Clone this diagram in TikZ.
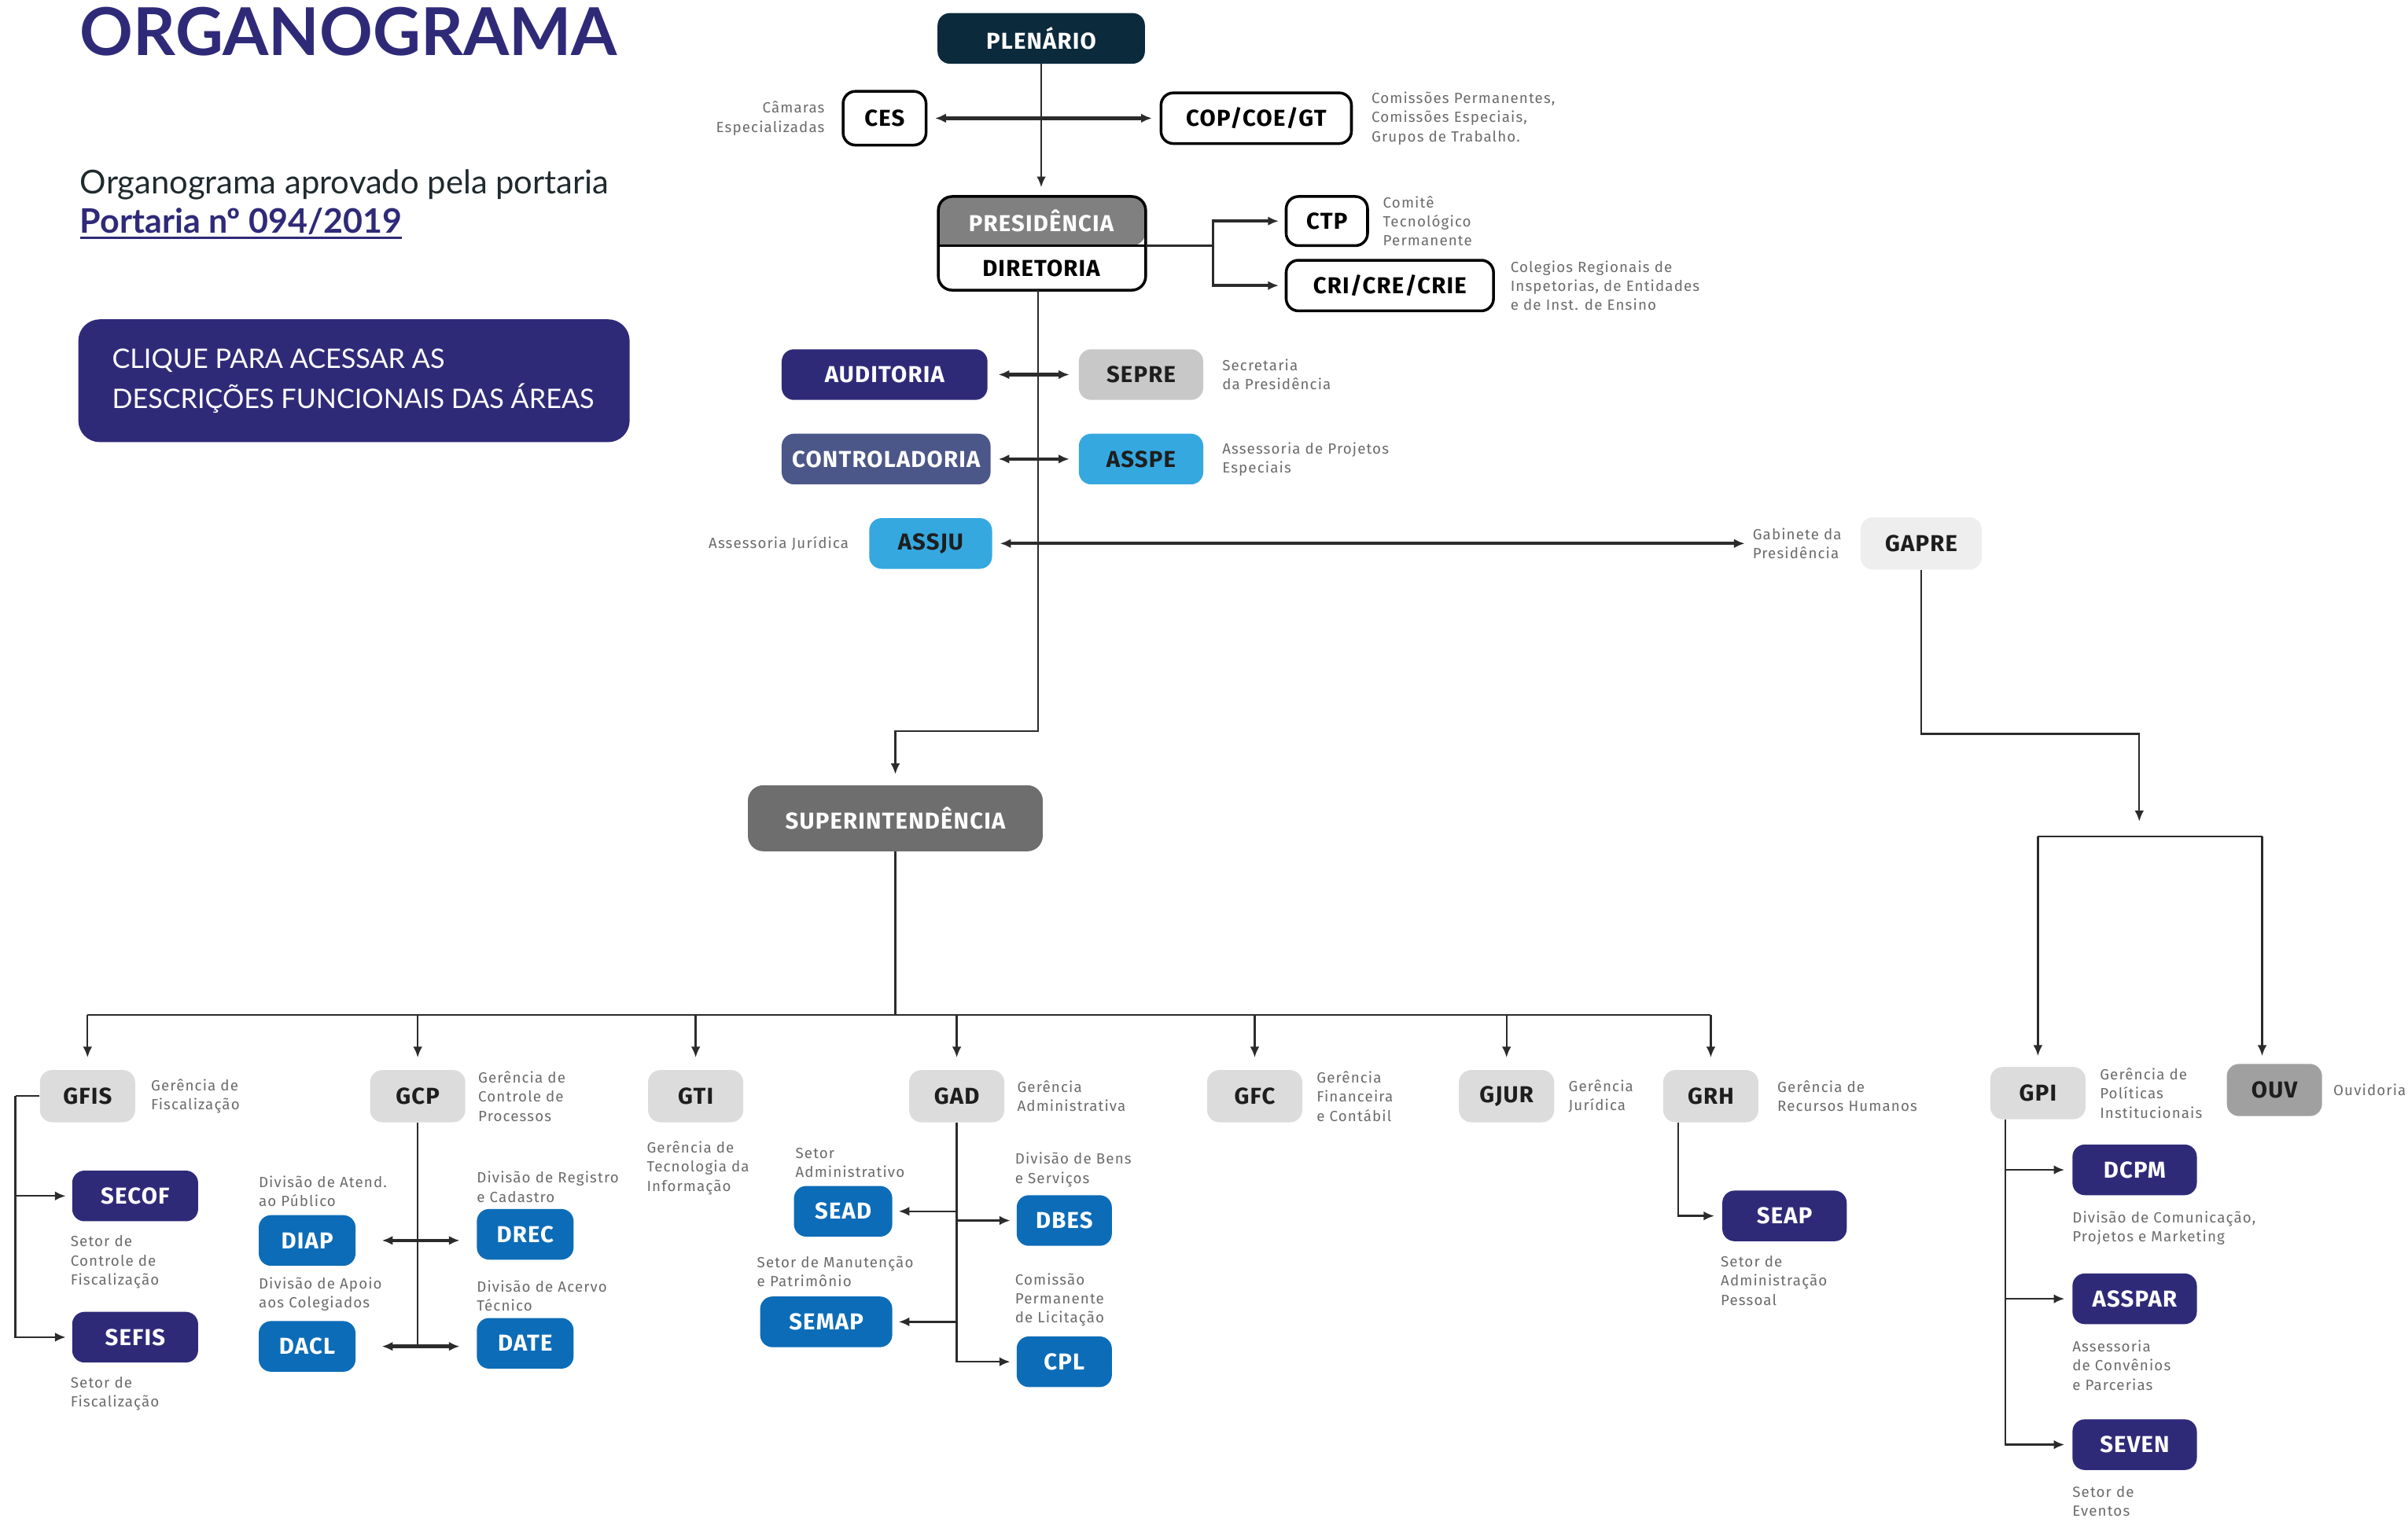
\documentclass[tikz,border=0pt]{standalone}
\usepackage{fontspec}
\setmainfont{Fira Sans}
\newfontfamily\latofont{Lato}
\newfontfamily\unitfont[LetterSpace=4]{Fira Sans}
\newfontfamily\descfont[LetterSpace=6]{Fira Sans}
\usetikzlibrary{positioning,arrows.meta}

\definecolor{indigo}{HTML}{2F2A78}
\definecolor{plenblue}{HTML}{0B2A3C}
\definecolor{presgray}{HTML}{808080}
\definecolor{supgray}{HTML}{6E6E6E}
\definecolor{boxgray}{HTML}{DCDCDC}
\definecolor{sepregray}{HTML}{C8C8C8}
\definecolor{gapregray}{HTML}{EEEEEE}
\definecolor{ouvgray}{HTML}{A0A0A0}
\definecolor{ctrlblue}{HTML}{4C5789}
\definecolor{lightblue}{HTML}{35A8E0}
\definecolor{midblue}{HTML}{0C6CB8}
\definecolor{linegray}{HTML}{2B2B2B}
\definecolor{descgray}{HTML}{6B6B6B}
\definecolor{darktext}{HTML}{1E1E1E}
\definecolor{subtext}{HTML}{1F2A2E}

\begin{document}
\begin{tikzpicture}[x=1pt, y=-1pt, shorten >=0pt, >={Latex[length=7pt,width=6pt]}]
    \tikzstyle{unit}=[rectangle, rounded corners=8pt, minimum height=33pt, inner sep=0pt, font=\unitfont\bfseries\fontsize{15}{18}\selectfont]
    \tikzstyle{outline unit}=[unit, draw=black, line width=1.8pt, fill=white, text=black]
    \tikzstyle{navy unit}=[unit, fill=plenblue, text=white]
    \tikzstyle{indigo unit}=[unit, fill=indigo, text=white]
    \tikzstyle{blue unit}=[unit, fill=midblue, text=white]
    \tikzstyle{light unit}=[unit, fill=lightblue, text=darktext]
    \tikzstyle{gray unit}=[unit, fill=boxgray, text=darktext, minimum width=62pt, minimum height=34pt]
    \tikzstyle{desc}=[inner sep=0pt, align=left, text=descgray, font=\descfont\fontsize{9.6}{12.5}\selectfont]
    \tikzstyle{link}=[draw=linegray, line width=1.2pt]
    \tikzstyle{link arrow}=[link, ->]
    \tikzstyle{two way}=[draw=linegray, line width=2.2pt, <->]

    \useasboundingbox (0,0) rectangle (1568,991);

    % Left panel
    \node[anchor=base west, inner sep=0pt, text=indigo, font=\latofont\bfseries\fontsize{43}{43}\selectfont] (title) at (52,36) {ORGANOGRAMA};
    \node[anchor=base west, inner sep=0pt, text=subtext, font=\latofont\fontsize{21.4}{22}\selectfont] (sub) at (52,126) {Organograma aprovado pela portaria};
    \node[anchor=base west, inner sep=0pt, text=indigo, font=\latofont\bfseries\fontsize{22}{22}\selectfont] (port) at (52,152) {Portaria nº 094/2019};
    \draw[indigo, line width=1.6pt] ([yshift=-3pt]port.base west) -- ([yshift=-3pt]port.base east);
    \node[fill=indigo, rounded corners=14pt, minimum width=359pt, minimum height=80pt, inner sep=0pt] (btn) at (230.5,248) {};
    \node[right=22pt of btn.west, inner sep=0pt, align=left, text=white, font=\latofont\fontsize{17.5}{26}\selectfont] (btntext) {CLIQUE PARA ACESSAR AS\\DESCRIÇÕES FUNCIONAIS DAS ÁREAS};

    % Plenario and commissions
    \node[navy unit, minimum width=135pt] (plen) at (678,25) {PLENÁRIO};
    \node[outline unit, minimum width=54pt, minimum height=35pt] (ces) at (576,77) {CES};
    \node[outline unit, minimum width=124pt] (cop) at (818,77) {COP/COE/GT};
    \node[desc, align=right, left=11pt of ces] (ceslbl) {Câmaras\\Especializadas};
    \node[desc, right=12pt of cop] (coplbl) {Comissões Permanentes,\\Comissões Especiais,\\Grupos de Trabalho.};

    % Presidencia / Diretoria
    \coordinate (prestop) at (678,128);
    \coordinate (presdir) at (746,160);
    \coordinate (dirbot) at (676,189);
    \fill[white, rounded corners=9pt] (611,128) rectangle (746,189);
    \fill[presgray] (611,160) [rounded corners=9pt] |- (678,128) -| (746,160) [sharp corners] -- cycle;
    \draw[black, line width=1.8pt, rounded corners=9pt] (611,128) rectangle (746,189);
    \draw[black, line width=1.8pt] (611,160) -- (presdir);
    \node[unit, text=white] (pres) at (678,144) {PRESIDÊNCIA};
    \node[unit, text=black] (dir) at (678,175) {DIRETORIA};

    \node[outline unit, minimum width=53pt, minimum height=32pt] (ctp) at (864,144) {CTP};
    \node[outline unit, minimum width=135pt] (cri) at (905,186) {CRI/CRE/CRIE};
    \node[desc, right=9pt of ctp] (ctplbl) {Comitê\\Tecnológico\\Permanente};
    \node[desc, right=10pt of cri] (crilbl) {Colegios Regionais de\\Inspetorias, de Entidades\\e de Inst. de Ensino};

    % Assessorias
    \node[indigo unit, minimum width=134pt] (aud) at (576,244) {AUDITORIA};
    \node[unit, fill=sepregray, text=darktext, minimum width=81pt] (sepre) at (743,244) {SEPRE};
    \node[desc, right=12pt of sepre] (seprelbl) {Secretaria\\da Presidência};
    \node[unit, fill=ctrlblue, text=white, minimum width=136pt] (ctrl) at (577,299) {CONTROLADORIA};
    \node[light unit, minimum width=81pt] (asspe) at (743,299) {ASSPE};
    \node[desc, right=12pt of asspe] (asspelbl) {Assessoria de Projetos\\Especiais};
    \node[light unit, minimum width=80pt] (assju) at (606,354) {ASSJU};
    \node[desc, left=13pt of assju] (assjulbl) {Assessoria Jurídica};
    \node[unit, fill=gapregray, text=darktext, minimum width=79pt, minimum height=34pt] (gapre) at (1251,354) {GAPRE};
    \node[desc, left=12pt of gapre] (gaprelbl) {Gabinete da\\Presidência};

    % Superintendencia
    \node[unit, fill=supgray, text=white, minimum width=192pt, minimum height=43pt, rounded corners=10pt] (sup) at (583,533) {SUPERINTENDÊNCIA};
    \coordinate (bus) at (583,661);

    % Gerencias
    \foreach \n/\t/\x in {gfis/GFIS/57, gcp/GCP/272, gti/GTI/453, gad/GAD/623, gfc/GFC/817, gjur/GJUR/981, grh/GRH/1114}
        \node[gray unit] (\n) at (\x,714) {\t};
    \node[gray unit] (gpi) at (1327,712) {GPI};
    \node[gray unit, fill=ouvgray] (ouv) at (1481,710) {OUV};

    \node[desc, right=10pt of gfis] {Gerência de\\Fiscalização};
    \node[desc, right=8pt of gcp] {Gerência de\\Controle de\\Processos};
    \node[desc, anchor=north west] at (421,743) {Gerência de\\Tecnologia da\\Informação};
    \node[desc, right=8pt of gad] {Gerência\\Administrativa};
    \node[desc, right=9pt of gfc] {Gerência\\Financeira\\e Contábil};
    \node[desc, right=9pt of gjur] {Gerência\\Jurídica};
    \node[desc, right=12pt of grh] {Gerência de\\Recursos Humanos};
    \node[desc, right=9pt of gpi] {Gerência de\\Políticas\\Institucionais};
    \node[desc, right=7pt of ouv] {Ouvidoria};

    % Setores e divisoes
    \node[indigo unit, minimum width=82pt] (secof) at (88,779) {SECOF};
    \node[indigo unit, minimum width=82pt] (sefis) at (88,871) {SEFIS};
    \node[desc, below right=9pt and -1pt of secof.south west] {Setor de\\Controle de\\Fiscalização};
    \node[desc, below right=9pt and -1pt of sefis.south west] {Setor de\\Fiscalização};

    \node[blue unit, minimum width=63pt] (diap) at (200,808) {DIAP};
    \node[blue unit, minimum width=63pt] (drec) at (342,804) {DREC};
    \node[blue unit, minimum width=63pt] (dacl) at (200,877) {DACL};
    \node[blue unit, minimum width=63pt] (date) at (342,875) {DATE};
    \node[desc, above right=5pt and 0pt of diap.north west] {Divisão de Atend.\\ao Público};
    \node[desc, above right=4pt and 0pt of drec.north west] {Divisão de Registro\\e Cadastro};
    \node[desc, above right=6pt and 0pt of dacl.north west] {Divisão de Apoio\\aos Colegiados};
    \node[desc, above right=4pt and 0pt of date.north west] {Divisão de Acervo\\Técnico};

    \node[blue unit, minimum width=64pt] (sead) at (549,789) {SEAD};
    \node[blue unit, minimum width=62pt] (dbes) at (693,795) {DBES};
    \node[blue unit, minimum width=86pt] (semap) at (538,861) {SEMAP};
    \node[blue unit, minimum width=62pt] (cpl) at (693,887) {CPL};
    \node[desc, above right=5pt and 1pt of sead.north west] {Setor\\Administrativo};
    \node[desc, above right=5pt and -1pt of dbes.north west] {Divisão de Bens\\e Serviços};
    \node[desc, above right=6pt and -2pt of semap.north west] {Setor de Manutenção\\e Patrimônio};
    \node[desc, above right=6pt and -1pt of cpl.north west] {Comissão\\Permanente\\de Licitação};

    \node[indigo unit, minimum width=81pt] (seap) at (1162,792) {SEAP};
    \node[desc, below right=9pt and -1pt of seap.south west] {Setor de\\Administração\\Pessoal};

    \node[indigo unit, minimum width=81pt] (dcpm) at (1390,762) {DCPM};
    \node[indigo unit, minimum width=81pt] (asspar) at (1390,846) {ASSPAR};
    \node[indigo unit, minimum width=81pt] (seven) at (1390,941) {SEVEN};
    \node[desc, below right=10pt and 0pt of dcpm.south west] {Divisão de Comunicação,\\Projetos e Marketing};
    \node[desc, below right=10pt and 0pt of asspar.south west] {Assessoria\\de Convênios\\e Parcerias};
    \node[desc, below right=10pt and 0pt of seven.south west] {Setor de\\Eventos};

    % Connect plenario, presidencia and commissions
    \draw[link arrow, shorten >=6pt] (plen) -- (prestop);
    \draw[two way, shorten <=5pt, shorten >=5pt] (ces) -- (cop);
    \coordinate (fork) at (790,160);
    \draw[link, line width=1.8pt] (presdir) -- (fork);
    \draw[link arrow, line width=1.8pt, shorten >=4pt] (fork) |- (ctp);
    \draw[link arrow, line width=1.8pt, shorten >=4pt] (fork) |- (cri);

    % Connect assessorias
    \draw[link arrow, shorten >=7pt] (dirbot) |- ([yshift=35pt]sup.north) -- (sup.north);
    \draw[two way, shorten <=7pt, shorten >=6pt] (aud) -- (sepre);
    \draw[two way, shorten <=5pt, shorten >=6pt] (ctrl) -- (asspe);
    \draw[two way, shorten <=5pt, shorten >=5pt] (assju) -- (gaprelbl);

    % Connect gabinete to GPI and OUV
    \coordinate (split) at (1393,545);
    \coordinate (barL) at (1327,545);
    \coordinate (barR) at (1473,545);
    \draw[link arrow, shorten >=10pt] (gapre) |- ([yshift=67pt]split) -- (split);
    \draw[link] (barL) -- (barR);
    \draw[link arrow, shorten >=7pt] (barL) -- (gpi);
    \draw[link arrow, shorten >=5pt] (barR) -- (barR |- ouv.north);

    % Connect superintendencia to gerencias
    \draw[link] (sup) -- (bus);
    \draw[link] (gfis |- bus) -- (grh |- bus);
    \foreach \g in {gfis,gcp,gti,gad,gfc,gjur,grh}
        \draw[link arrow, shorten >=8pt] (\g |- bus) -- (\g);

    % Connect gerencias to setores
    \coordinate (gfisl) at (10,714);
    \draw[link] (gfis) -- (gfisl);
    \draw[link arrow, shorten >=4pt] (gfisl) |- (secof);
    \draw[link arrow, shorten >=4pt] (gfisl) |- (sefis);

    \draw[link] (gcp) -- (gcp |- dacl);
    \draw[two way] ([xshift=17pt]diap.east) -- ([xshift=-11pt]diap.east -| drec.west);
    \draw[two way] ([xshift=17pt]dacl.east) -- ([xshift=-11pt]dacl.east -| date.west);

    \draw[link arrow, shorten >=4pt] (gad) |- (cpl);
    \draw[link arrow, shorten >=4pt] (gad |- sead) -- (sead);
    \draw[link arrow, shorten >=4pt] (gad |- dbes) -- (dbes);
    \draw[link arrow, shorten >=4pt] (gad |- semap) -- (semap);

    \coordinate (grhl) at ([xshift=10pt]grh.south west);
    \draw[link arrow, shorten >=5pt] (grhl) |- (seap);

    \coordinate (gpil) at ([xshift=10pt]gpi.south west);
    \draw[link arrow, shorten >=5pt] (gpil) |- (seven);
    \draw[link arrow, shorten >=5pt] (gpil |- dcpm) -- (dcpm);
    \draw[link arrow, shorten >=5pt] (gpil |- asspar) -- (asspar);
\end{tikzpicture}
\end{document}
